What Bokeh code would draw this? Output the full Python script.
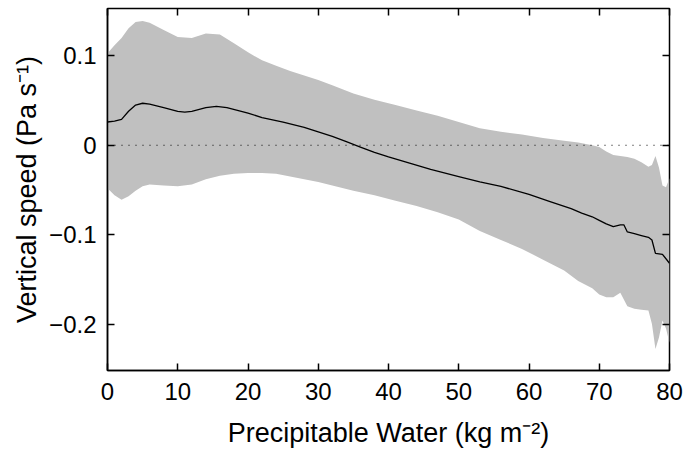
from bokeh.plotting import figure
from bokeh.models import LinearAxis, FixedTicker, Range1d, Span
from bokeh.embed import file_html
from bokeh.resources import INLINE

# ---- data ----
band_x = [0, 1, 2, 3, 4, 5, 6, 8, 10, 12, 14, 16, 18, 20, 22, 24, 26, 28, 30, 32,
          35, 38, 41, 44, 47, 50, 53, 56, 59, 62, 65, 67, 69, 70, 71, 72, 73, 74,
          75, 76, 77, 77.5, 78, 78.5, 79, 79.5, 80]
band_upper = [0.103, 0.112, 0.120, 0.131, 0.138, 0.139, 0.137, 0.129, 0.121, 0.120,
              0.125, 0.124, 0.114, 0.104, 0.095, 0.089, 0.083, 0.078, 0.073, 0.067,
              0.058, 0.051, 0.045, 0.039, 0.033, 0.026, 0.019, 0.015, 0.012, 0.008,
              0.005, 0.003, 0.000, -0.002, -0.007, -0.011, -0.012, -0.013, -0.015,
              -0.019, -0.024, -0.022, -0.012, -0.025, -0.045, -0.047, -0.037]
band_lower = [-0.048, -0.056, -0.061, -0.057, -0.051, -0.046, -0.044, -0.045, -0.046,
              -0.044, -0.038, -0.034, -0.032, -0.031, -0.031, -0.032, -0.035, -0.038,
              -0.041, -0.045, -0.051, -0.056, -0.062, -0.068, -0.075, -0.083, -0.096,
              -0.106, -0.116, -0.128, -0.140, -0.152, -0.160, -0.167, -0.170, -0.170,
              -0.165, -0.180, -0.183, -0.184, -0.185, -0.200, -0.228, -0.215, -0.196,
              -0.205, -0.221]

mean_x = [0, 1, 2, 3, 4, 5, 6, 8, 10, 11, 12, 14, 15.5, 17, 20, 22, 25, 28, 30, 32,
          34, 36, 38, 40, 43, 46, 50, 53, 56, 60, 63, 66, 67.5, 69, 70, 71, 72, 73,
          73.5, 74, 75, 76, 77, 77.5, 78, 79, 80]
mean_y = [0.026, 0.027, 0.029, 0.038, 0.045, 0.047, 0.046, 0.042, 0.038, 0.037,
          0.038, 0.042, 0.0435, 0.042, 0.036, 0.031, 0.026, 0.020, 0.015, 0.010,
          0.004, -0.002, -0.008, -0.013, -0.020, -0.027, -0.035, -0.041, -0.046,
          -0.055, -0.063, -0.071, -0.076, -0.080, -0.084, -0.088, -0.091, -0.089,
          -0.089, -0.097, -0.099, -0.101, -0.103, -0.106, -0.121, -0.122, -0.132]

x_ticks = [0, 10, 20, 30, 40, 50, 60, 70, 80]
y_ticks = [0.1, 0, -0.1, -0.2]
y_tick_labels = ["0.1", "0", "\u22120.1", "\u22120.2"]

x_label = "Precipitable Water (kg m\u207b\u00b2)"
y_label = "Vertical speed (Pa s\u207b\u00b9)"

FONT = "Liberation Sans"
TICK_SIZE = "24px"
LABEL_SIZE = "27px"

p = figure(width=686, height=453, output_backend="svg", toolbar_location=None,
           x_range=Range1d(0, 80), y_range=Range1d(-0.252, 0.153),
           min_border_left=107, min_border_right=17, min_border_top=8,
           min_border_bottom=83)
p.background_fill_color = "white"
p.border_fill_color = "white"
p.outline_line_color = "black"
p.outline_line_width = 1.5
p.grid.visible = False

p.varea(x=band_x, y1=band_lower, y2=band_upper, fill_color="#c0c0c0", fill_alpha=1.0)
p.add_layout(Span(location=0, dimension="width", line_color="black",
                  line_width=1, line_dash="1 6"))
p.line(mean_x, mean_y, line_color="black", line_width=1.3)

def style_axis(ax, show_labels=True):
    ax.axis_line_color = "black"
    ax.axis_line_width = 1.5
    ax.major_tick_in = 7
    ax.major_tick_out = 0
    ax.major_tick_line_color = "black"
    ax.major_tick_line_width = 1.5
    ax.minor_tick_line_color = None
    ax.major_label_text_font = FONT
    if show_labels:
        ax.major_label_text_color = "black"
        ax.major_label_text_font_size = TICK_SIZE
        ax.major_label_standoff = 11
    else:
        ax.major_label_text_color = None
        ax.major_label_text_font_size = "1px"
        ax.major_label_standoff = 0
        ax.axis_line_color = None

xa = p.xaxis[0]
xa.ticker = FixedTicker(ticks=x_ticks)
xa.axis_label = x_label
xa.axis_label_text_font = FONT
xa.axis_label_text_font_size = LABEL_SIZE
xa.axis_label_text_font_style = "normal"
xa.axis_label_text_color = "black"
xa.axis_label_standoff = 15
style_axis(xa)
xa.major_label_standoff = 12

ya = p.yaxis[0]
ya.ticker = FixedTicker(ticks=y_ticks)
ya.major_label_overrides = {t: l for t, l in zip(y_ticks, y_tick_labels)}
ya.axis_label = y_label
ya.axis_label_text_font = FONT
ya.axis_label_text_font_size = LABEL_SIZE
ya.axis_label_text_font_style = "normal"
ya.axis_label_text_color = "black"
ya.axis_label_standoff = 4
style_axis(ya)

top = LinearAxis(ticker=FixedTicker(ticks=x_ticks))
style_axis(top, show_labels=False)
p.add_layout(top, "above")
right = LinearAxis(ticker=FixedTicker(ticks=y_ticks))
style_axis(right, show_labels=False)
p.add_layout(right, "right")

open("out.html", "w").write(file_html(p, INLINE))
